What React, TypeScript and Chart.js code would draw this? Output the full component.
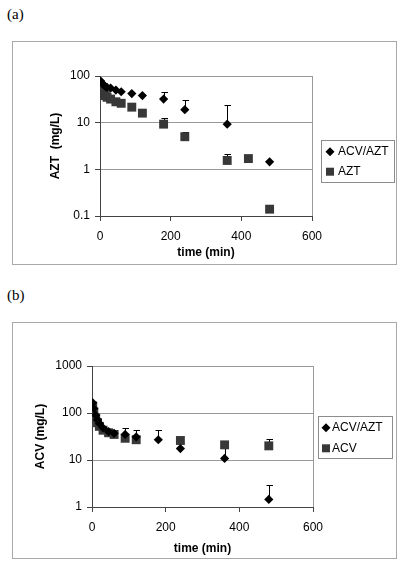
import React, { useEffect, useRef } from 'react';
import { Chart, registerables } from 'chart.js';

Chart.register(...registerables);

// ---------- Panel (a): AZT (mg/L) ----------
const timeA_combo = [2, 5, 10, 15, 20, 30, 45, 60, 90, 120, 180, 240, 360, 480];
const aztA_combo = [78, 70, 65, 60, 57, 55, 50, 46, 42, 38, 32, 19, 9.3, 1.45];
const aztA_comboHi: (number | null)[] = [null, null, null, null, null, null, null, null, null, null, 45, 31, 24, null];

const timeA_single = [2, 5, 10, 15, 20, 30, 45, 60, 90, 120, 180, 240, 360, 420, 480];
const aztA_single = [58, 50, 43, 38, 35, 32, 28, 26, 21.5, 16, 9.3, 5.0, 1.55, 1.7, 0.14];
const aztA_singleHi: (number | null)[] = [null, null, null, null, null, null, null, null, null, null, 12.5, 6.4, 2.1, null, null];

// ---------- Panel (b): ACV (mg/L) ----------
const timeB_combo = [2, 5, 10, 15, 20, 30, 45, 60, 90, 120, 180, 240, 360, 480];
const acvB_combo = [165, 125, 90, 72, 60, 48, 40, 37, 35, 31, 27, 17.5, 10.8, 1.45];
const acvB_comboHi: (number | null)[] = [null, null, null, null, null, null, null, null, 48, 44, 44, null, 19, 2.9];

const timeB_single = [2, 5, 10, 15, 20, 30, 45, 60, 90, 120, 240, 360, 480];
const acvB_single = [140, 105, 78, 62, 52, 43, 38, 35, 29, 27, 26, 21, 20];
const acvB_singleHi: (number | null)[] = [null, null, null, null, null, null, null, null, null, null, null, null, 28];

const xTicks = [0, 200, 400, 600];
const yTicksA = [0.1, 1, 10, 100];
const yTicksB = [1, 10, 100, 1000];

const FONT = "'Liberation Sans', Arial, sans-serif";

type Series = {
  label: string;
  t: number[];
  v: number[];
  hi: (number | null)[];
  shape: 'diamond' | 'square';
  color: string;
};

type PanelProps = {
  left: number;
  top: number;
  width: number;
  height: number;
  series: Series[];
  yMin: number;
  yMax: number;
  yTicks: number[];
  yTitle: string;
  area: { left: number; top: number; right: number; bottom: number };
  yTitlePad: number;
  xTitlePad: number;
  legend: { x: number; y: number; w: number; h: number; row1: number; row2: number; markerX: number; textX: number };
};

function Panel(p: PanelProps) {
  const ref = useRef<HTMLCanvasElement | null>(null);

  useEffect(() => {
    const canvas = ref.current;
    if (!canvas) return;

    const decor = {
      id: 'decor',
      beforeDraw(c: any) {
        const ctx = c.ctx;
        ctx.save();
        ctx.fillStyle = '#ffffff';
        ctx.fillRect(0, 0, c.width, c.height);
        ctx.strokeStyle = '#a8a8a8';
        ctx.lineWidth = 1;
        ctx.strokeRect(0.5, 0.5, c.width - 1, c.height - 1);
        ctx.restore();
      },
      beforeDatasetsDraw(c: any) {
        const ctx = c.ctx;
        const a = c.chartArea;
        const xs = c.scales.x;
        const ys = c.scales.y;
        ctx.save();
        ctx.strokeStyle = '#9a9a9a';
        ctx.lineWidth = 1;
        const rx = Math.round(a.right) + 0.5;
        ctx.beginPath();
        ctx.moveTo(rx, a.top);
        ctx.lineTo(rx, a.bottom);
        ctx.stroke();
        ctx.strokeStyle = '#000';
        p.series.forEach((s) => {
          s.t.forEach((t, i) => {
            const hi = s.hi[i];
            if (hi == null) return;
            const x = Math.round(xs.getPixelForValue(t)) + 0.5;
            const y0 = ys.getPixelForValue(s.v[i]);
            const y1 = Math.round(ys.getPixelForValue(hi)) + 0.5;
            ctx.beginPath();
            ctx.moveTo(x, y0);
            ctx.lineTo(x, y1);
            ctx.moveTo(x - 3, y1);
            ctx.lineTo(x + 3.5, y1);
            ctx.stroke();
          });
        });
        ctx.restore();
      },
      afterDraw(c: any) {
        const ctx = c.ctx;
        const L = p.legend;
        ctx.save();
        ctx.strokeStyle = '#8c8c8c';
        ctx.lineWidth = 1;
        ctx.strokeRect(L.x + 0.5, L.y + 0.5, L.w, L.h);
        const rows = [L.row1, L.row2];
        c.data.datasets.forEach((ds: any, i: number) => {
          const s = p.series[i];
          const y = rows[i];
          ctx.fillStyle = s.color;
          ctx.beginPath();
          if (s.shape === 'diamond') {
            const r = 4.5;
            ctx.moveTo(L.markerX - r, y);
            ctx.lineTo(L.markerX, y - r);
            ctx.lineTo(L.markerX + r, y);
            ctx.lineTo(L.markerX, y + r);
            ctx.closePath();
          } else {
            ctx.rect(L.markerX - 4, y - 4, 8, 8);
          }
          ctx.fill();
          ctx.fillStyle = '#000';
          ctx.font = `12px ${FONT}`;
          ctx.textBaseline = 'middle';
          ctx.textAlign = 'left';
          ctx.fillText(ds.label, L.textX, y);
        });
        ctx.restore();
      },
    };

    const chart = new Chart(canvas, {
      type: 'scatter',
      data: {
        datasets: p.series.map((s) => ({
          label: s.label,
          data: s.t.map((x, i) => ({ x, y: s.v[i] })),
          pointStyle: s.shape === 'diamond' ? 'rectRot' : 'rect',
          pointRadius: s.shape === 'diamond' ? 4.6 : 6.3,
          pointHoverRadius: s.shape === 'diamond' ? 4.6 : 6.3,
          backgroundColor: s.color,
          borderColor: s.color,
          borderWidth: 0,
          showLine: false,
        })),
      },
      options: {
        animation: false,
        responsive: false,
        devicePixelRatio: 1,
        events: [],
        layout: {
          padding: { left: 0, top: p.area.top, right: p.width - p.area.right, bottom: 0 },
        },
        plugins: {
          legend: { display: false },
          tooltip: { enabled: false },
        },
        scales: {
          x: {
            type: 'linear',
            min: 0,
            max: 600,
            afterBuildTicks: (s: any) => {
              s.ticks = xTicks.map((v) => ({ value: v }));
            },
            afterFit: (s: any) => {
              s.height = p.height - p.area.bottom;
            },
            ticks: {
              color: '#000',
              font: { family: FONT, size: 12 },
              padding: 8,
              maxRotation: 0,
              autoSkip: false,
              callback: (v: any) => String(v),
            },
            grid: {
              drawOnChartArea: false,
              drawTicks: true,
              tickLength: 5,
              tickColor: '#444',
            },
            border: { display: true, color: '#444', width: 1 },
            title: {
              display: true,
              text: 'time (min)',
              color: '#000',
              font: { family: FONT, size: 12, weight: 'bold' },
              padding: { top: 0, bottom: p.xTitlePad },
            },
          },
          y: {
            type: 'logarithmic',
            min: p.yMin,
            max: p.yMax,
            afterBuildTicks: (s: any) => {
              s.ticks = p.yTicks.map((v) => ({ value: v }));
            },
            afterFit: (s: any) => {
              s.width = p.area.left;
            },
            ticks: {
              color: '#000',
              font: { family: FONT, size: 12 },
              padding: 5,
              autoSkip: false,
              callback: (v: any) => String(v),
            },
            grid: {
              color: '#999',
              drawTicks: true,
              tickLength: 5,
              tickColor: '#444',
            },
            border: { display: true, color: '#444', width: 1 },
            title: {
              display: true,
              text: p.yTitle,
              color: '#000',
              font: { family: FONT, size: 12, weight: 'bold' },
              padding: { top: p.yTitlePad, bottom: 0 },
            },
          },
        },
      } as any,
      plugins: [decor],
    });

    return () => chart.destroy();
  }, []);

  return (
    <canvas
      ref={ref}
      width={p.width}
      height={p.height}
      style={{ position: 'absolute', left: p.left, top: p.top, width: p.width, height: p.height }}
    />
  );
}

const labelStyle: React.CSSProperties = {
  position: 'absolute',
  left: 7,
  fontFamily: "'Liberation Serif', 'Times New Roman', serif",
  fontSize: 15,
  lineHeight: '17px',
  color: '#000',
};

export default function App() {
  const seriesA: Series[] = [
    { label: 'ACV/AZT', t: timeA_combo, v: aztA_combo, hi: aztA_comboHi, shape: 'diamond', color: '#000000' },
    { label: 'AZT', t: timeA_single, v: aztA_single, hi: aztA_singleHi, shape: 'square', color: '#383838' },
  ];
  const seriesB: Series[] = [
    { label: 'ACV/AZT', t: timeB_combo, v: acvB_combo, hi: acvB_comboHi, shape: 'diamond', color: '#000000' },
    { label: 'ACV', t: timeB_single, v: acvB_single, hi: acvB_singleHi, shape: 'square', color: '#383838' },
  ];

  return (
    <div style={{ position: 'absolute', left: 0, top: 0, width: 408, height: 569, background: '#fff' }}>
      <div style={{ ...labelStyle, top: 6 }}>(a)</div>
      <Panel
        left={12}
        top={41}
        width={385}
        height={224}
        series={seriesA}
        yMin={0.1}
        yMax={100}
        yTicks={yTicksA}
        yTitle="AZT  (mg/L)"
        area={{ left: 88, top: 35, right: 300, bottom: 175 }}
        yTitlePad={36}
        xTitlePad={5}
        legend={{ x: 309, y: 99, w: 73, h: 42, row1: 110.7, row2: 130.7, markerX: 318, textX: 326 }}
      />
      <div style={{ ...labelStyle, top: 287 }}>(b)</div>
      <Panel
        left={12}
        top={322}
        width={385}
        height={237}
        series={seriesB}
        yMin={1}
        yMax={1000}
        yTicks={yTicksB}
        yTitle="ACV (mg/L)"
        area={{ left: 80, top: 44, right: 301, bottom: 185 }}
        yTitlePad={21}
        xTitlePad={3.5}
        legend={{ x: 306, y: 94, w: 74, h: 42, row1: 105.7, row2: 126.3, markerX: 314, textX: 320 }}
      />
    </div>
  );
}
